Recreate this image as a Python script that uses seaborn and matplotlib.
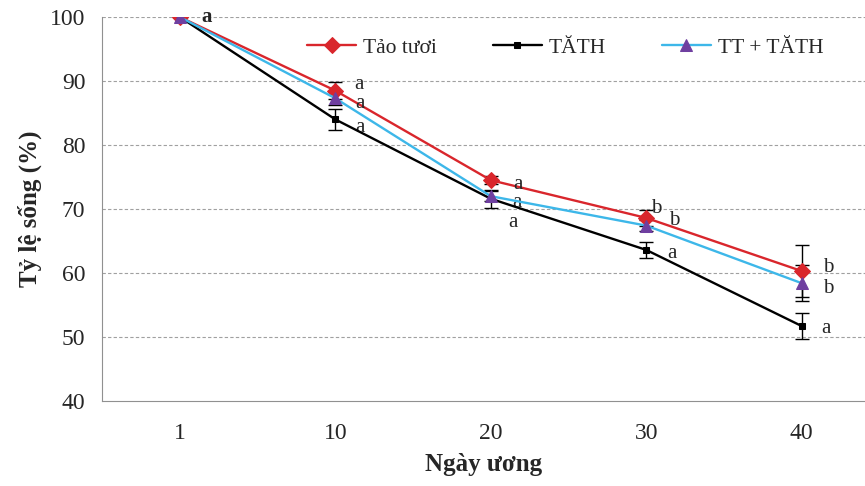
import matplotlib
matplotlib.use("Agg")
import matplotlib.pyplot as plt
import seaborn as sns
import pandas as pd
import numpy as np

# data
days = ["1", "10", "20", "30", "40"]
series_names = ["Tảo tươi", "TĂTH", "TT + TĂTH"]
tao_tuoi = [100, 88.5, 74.5, 68.6, 60.3]
tath = [100, 84.0, 71.6, 63.6, 51.7]
tt_tath = [100, 87.3, 72.0, 67.4, 58.4]
err_tao_tuoi = [0, 1.3, 0.6, 1.2, 4.1]
err_tath = [0, 1.6, 1.4, 1.3, 2.0]
err_tt_tath = [0, 1.0, 0.8, 0.8, 2.8]
sig_tao_tuoi = ["a", "a", "a", "b", "b"]
sig_tath = ["", "a", "a", "a", "a"]
sig_tt_tath = ["", "a", "a", "b", "b"]

values = [tao_tuoi, tath, tt_tath]
errors = [err_tao_tuoi, err_tath, err_tt_tath]
letters = [sig_tao_tuoi, sig_tath, sig_tt_tath]
colors = ["#D9262C", "#000000", "#3DB7E9"]
marker_styles = ["D", "s", "^"]
marker_faces = ["#D9262C", "#000000", "#6F3FA0"]
marker_sizes = [8, 5, 8]
# label offsets from each point, in pixels (right, down)
offsets_px = [
    [(22, 0), (19, -6), (22, 4), (5, -9), (21, -4)],
    [(0, 0), (20, 8), (17, 24), (21, 4), (19, 2)],
    [(0, 0), (20, 5), (21, 6), (23, -5), (21, 5)],
]

sns.set_style("white")
plt.rcParams["font.family"] = ["Liberation Serif", "DejaVu Serif"]

df = pd.DataFrame({
    "day": np.tile(np.arange(len(days)), len(series_names)),
    "value": np.concatenate(values),
    "series": np.repeat(series_names, len(days)),
})

fig = plt.figure(figsize=(8.65, 4.86), dpi=100)
ax = fig.add_axes([0.118, 0.175, 0.882, 0.79])

for y in range(50, 101, 10):
    ax.axhline(y, color="#A0A0A0", lw=0.8, ls=(0, (3, 2)), zorder=0)

for i, name in enumerate(series_names):
    sub = df[df["series"] == name]
    ax.errorbar(sub["day"], sub["value"], yerr=errors[i], fmt="none",
                ecolor="black", elinewidth=1, capsize=5, capthick=1, zorder=2)
    sns.lineplot(data=sub, x="day", y="value", ax=ax, color=colors[i],
                 lw=1.7, marker=marker_styles[i], markersize=marker_sizes[i],
                 markerfacecolor=marker_faces[i], markeredgecolor=marker_faces[i],
                 label=name, zorder=3 + i)
    for j, lab in enumerate(letters[i]):
        if lab:
            dx, dy = offsets_px[i][j]
            ax.annotate(lab, xy=(j, values[i][j]), xytext=(dx * 0.72, -dy * 0.72),
                        textcoords="offset points", fontsize=15,
                        fontweight="bold" if j == 0 else "normal",
                        va="center", ha="left")

ax.set_ylim(40, 100)
ax.set_yticks(range(40, 101, 10))
ax.set_xlim(-0.5, -0.5 + (865 - 102) / 155.5)
ax.set_xticks(np.arange(len(days)))
ax.set_xticklabels(days)
ax.set_xticks(np.arange(len(days)) - 0.5, minor=True)
ax.tick_params(axis="x", which="major", length=0, pad=16, labelsize=17)
ax.tick_params(axis="x", which="minor", length=6, color="#909090", direction="out")
ax.tick_params(axis="y", length=6, color="#909090", direction="out", labelsize=17,
               pad=6)

for s in ["top", "right"]:
    ax.spines[s].set_visible(False)
for s in ["left", "bottom"]:
    ax.spines[s].set_color("#909090")

ax.set_xlabel("Ngày ương", fontsize=18, fontweight="bold", labelpad=6)
ax.set_ylabel("Tỷ lệ sống (%)", fontsize=18, fontweight="bold", labelpad=6)

ax.legend(loc="center left", bbox_to_anchor=(0.257, 0.92), ncol=3, frameon=False,
          fontsize=15.5, handlelength=2.3, columnspacing=2.6, handletextpad=0.3,
          borderaxespad=0)

fig.savefig("out.png", dpi=100)
